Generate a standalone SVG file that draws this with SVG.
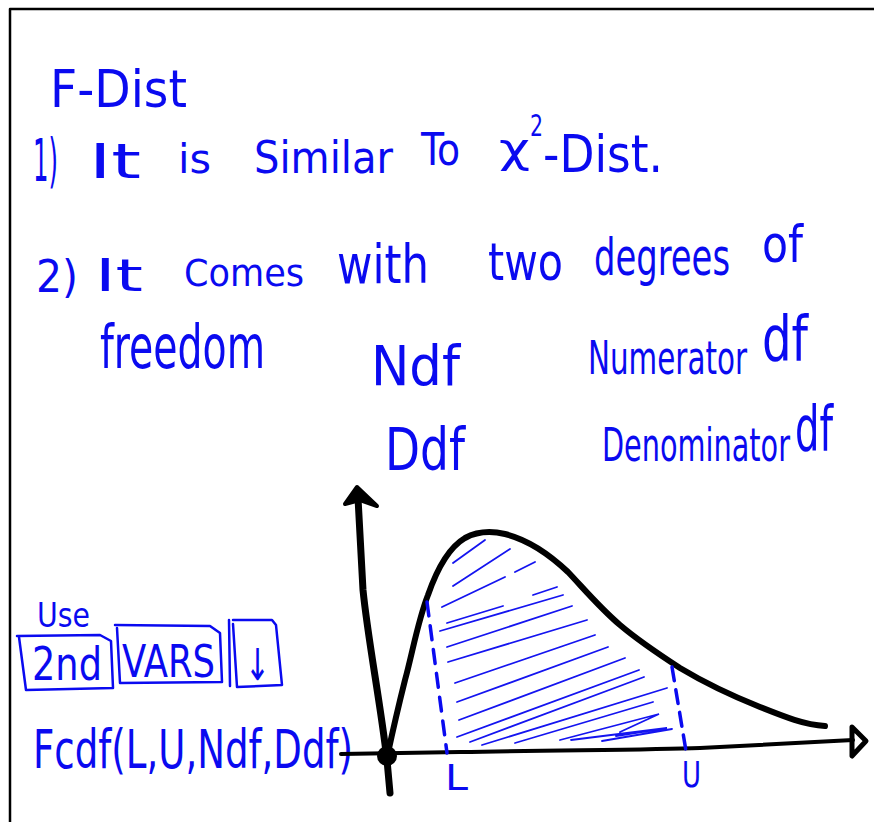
<svg xmlns="http://www.w3.org/2000/svg" width="874" height="822" viewBox="0 0 874 822">
<style>
.t{fill:#0a0af0;font-family:"Liberation Sans Narrow","DejaVu Sans Condensed","Liberation Sans",sans-serif;}
.ink{stroke:#000;fill:none;stroke-linecap:round;stroke-linejoin:round;}
.blue{stroke:#0a0af0;fill:none;stroke-linecap:round;stroke-linejoin:round;}
.hatch{stroke:#1414f0;stroke-width:1.8;stroke-linecap:round;fill:none;}
</style>
<rect width="874" height="822" fill="#fff"/>
<g id="frame"><path class="ink" d="M10,822 L10,9 L874,9" stroke-width="2.5" stroke-linecap="butt"/></g>

<g id="title"><text class="t" x="50" y="107" font-size="52" textLength="137" lengthAdjust="spacingAndGlyphs">F-Dist</text></g>

<g id="line1">
<text class="t" x="33" y="181" font-size="58" textLength="25" lengthAdjust="spacingAndGlyphs">1)</text>
<text class="t" x="89" y="178" font-size="48" textLength="52" lengthAdjust="spacingAndGlyphs">It</text>
<text class="t" x="178" y="173" font-size="40" textLength="33" lengthAdjust="spacingAndGlyphs">is</text>
<text class="t" x="254" y="173" font-size="44" textLength="139" lengthAdjust="spacingAndGlyphs">Similar</text>
<text class="t" x="421" y="165" font-size="44" textLength="39" lengthAdjust="spacingAndGlyphs">To</text>
<text class="t" font-size="40"><tspan x="499" y="162" textLength="31" lengthAdjust="spacingAndGlyphs">χ</tspan><tspan x="530" y="136" font-size="30" textLength="13" lengthAdjust="spacingAndGlyphs">2</tspan><tspan x="543" y="172" font-size="52" textLength="120" lengthAdjust="spacingAndGlyphs">-Dist.</tspan></text>
</g>

<g id="line2">
<text class="t" x="36" y="292" font-size="44" textLength="42" lengthAdjust="spacingAndGlyphs">2)</text>
<text class="t" x="95" y="291" font-size="44" textLength="48" lengthAdjust="spacingAndGlyphs">It</text>
<text class="t" x="184" y="286" font-size="38" textLength="120" lengthAdjust="spacingAndGlyphs">Comes</text>
<text class="t" x="337" y="283" font-size="54" textLength="92" lengthAdjust="spacingAndGlyphs">with</text>
<text class="t" x="488" y="280" font-size="52" textLength="75" lengthAdjust="spacingAndGlyphs">two</text>
<text class="t" x="594" y="275" font-size="52" textLength="136" lengthAdjust="spacingAndGlyphs">degrees</text>
<text class="t" x="762" y="262" font-size="52" textLength="41" lengthAdjust="spacingAndGlyphs">of</text>
<text class="t" x="100" y="368" font-size="60" textLength="165" lengthAdjust="spacingAndGlyphs">freedom</text>
</g>

<g id="dfs">
<text class="t" x="371" y="385" font-size="56" textLength="89" lengthAdjust="spacingAndGlyphs">Ndf</text>
<text class="t" x="588" y="374" font-size="46" textLength="159" lengthAdjust="spacingAndGlyphs">Numerator</text>
<text class="t" x="762" y="360" font-size="62" textLength="46" lengthAdjust="spacingAndGlyphs">df</text>
<text class="t" x="385" y="470" font-size="58" textLength="80" lengthAdjust="spacingAndGlyphs">Ddf</text>
<text class="t" x="602" y="461" font-size="46" textLength="188" lengthAdjust="spacingAndGlyphs">Denominator</text>
<text class="t" x="795" y="450" font-size="62" textLength="38" lengthAdjust="spacingAndGlyphs">df</text>
</g>

<g id="keys">
<text class="t" x="37" y="627" font-size="34" textLength="53" lengthAdjust="spacingAndGlyphs">Use</text>
<g id="key-2nd">
<path class="blue" stroke-width="2.5" d="M17,636 L100,635 L111,641 L113,688 L26,690 L19,637"/>
<text class="t" x="32" y="680" font-size="46" textLength="70" lengthAdjust="spacingAndGlyphs">2nd</text>
</g>
<g id="key-vars">
<path class="blue" stroke-width="2.5" d="M115,625 L210,626 L220,633 L222,682 L120,683 L117,628"/>
<text class="t" x="122" y="677" font-size="44" textLength="93" lengthAdjust="spacingAndGlyphs">VARS</text>
</g>
<g id="key-down">
<path class="blue" stroke-width="2.5" d="M229,620 L230,686 M233,620 L272,620 L276,625 L282,685 L237,687 L233,624"/>
<text class="t" x="245" y="680" font-size="44" textLength="25" lengthAdjust="spacingAndGlyphs">↓</text>
</g>
<text class="t" x="33" y="768" font-size="54" textLength="320" lengthAdjust="spacingAndGlyphs">Fcdf(L,U,Ndf,Ddf)</text>
</g>

<g id="graph">
<g id="hatching">
<path class="hatch" d="M453,563 L485,540 M453,586 L510,549 M515,572 L535,562 M442,607 L505,577 M533,595 L557,587 M447,623 L503,606 M440,631 L563,595 M447,647 L572,606 M448,662 L587,620 M455,683 L595,635 M457,702 L608,647 M459,720 L625,658 M457,737 L639,670 M470,742 L644,677 M482,745 L667,688 M515,743 L653,702 M560,740 L659,714 L620,732 M571,740 L667,728 L616,736 M602,741 L672,729"/>
</g>
<g id="axes">
<path class="ink" stroke-width="7" d="M390,793 L387,760 C380,700 368,640 363,590 L358,498"/>
<path fill="#000" stroke="#000" stroke-width="4" stroke-linejoin="round" d="M345,504 L357,487 L377,506 L360,500 Z"/>
<path class="ink" stroke-width="4" d="M341,754 L460,752 C560,750 650,750 700,748 L853,740"/>
<path class="ink" stroke-width="5" d="M852,727 L866,741 L852,756 Z"/>
<circle cx="387" cy="756" r="10" fill="#000"/>
</g>
<path id="curve" class="ink" stroke-width="6" d="M388,753 C394,725 400,700 405,680 C412,655 418,620 428,595 C436,572 448,548 465,538 C478,531 492,531 505,534 C525,539 548,553 568,572 C585,590 600,608 620,625 C640,642 660,655 680,668 C700,680 730,695 760,707 C785,717 805,725 825,726"/>
<g id="bounds">
<path class="blue" stroke-width="3.5" stroke-dasharray="14 10" d="M427,602 L447,753"/>
<path class="blue" stroke-width="3.5" stroke-dasharray="14 9" d="M672,667 L686,751"/>
<text class="t" x="445" y="790" font-size="36" textLength="23" lengthAdjust="spacingAndGlyphs">L</text>
<text class="t" x="682" y="787" font-size="36" textLength="19" lengthAdjust="spacingAndGlyphs">U</text>
</g>
</g>
</svg>
